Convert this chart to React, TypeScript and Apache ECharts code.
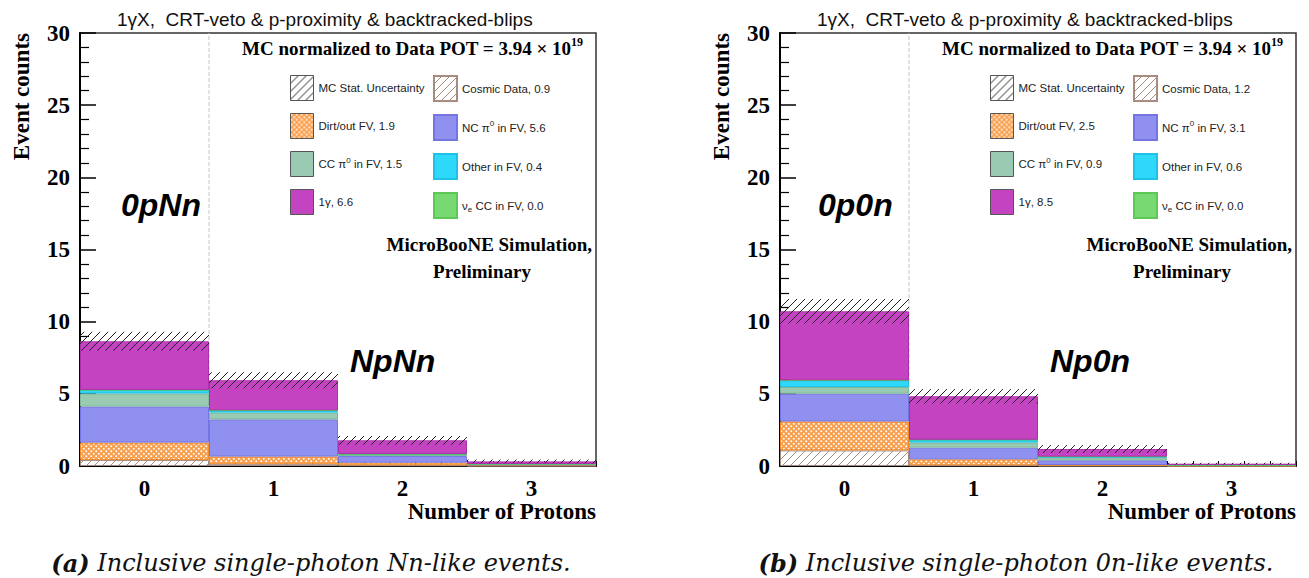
import React, { useEffect, useRef } from 'react';
import * as echarts from 'echarts';

// ---------------- data ----------------
const categories = ['0', '1', '2', '3'];

// (a) Nn-like panel
const nnCosmic = [0.42, 0.15, 0.05, 0.02];
const nnDirt = [1.2, 0.5, 0.18, 0.02];
const nnNCpi0 = [2.5, 2.58, 0.46, 0.1];
const nnCCpi0 = [0.9, 0.47, 0.09, 0.0];
const nnOther = [0.25, 0.16, 0.05, 0.0];
const nnNueCC = [0, 0, 0, 0];
const nnOneGamma = [3.37, 2.08, 0.95, 0.18];
const nnStatErr = [0.66, 0.55, 0.3, 0.13];
const nnLegendCol1 = ['MC Stat. Uncertainty', 'Dirt/out FV, 1.9', 'CC π0 in FV, 1.5', '1γ, 6.6'];
const nnLegendCol2 = ['Cosmic Data, 0.9', 'NC π0 in FV, 5.6', 'Other in FV, 0.4', 'νe CC in FV, 0.0'];

// (b) 0n-like panel
const onCosmic = [1.08, 0.05, 0.02, 0.01];
const onDirt = [2.0, 0.41, 0.05, 0.01];
const onNCpi0 = [1.93, 0.81, 0.32, 0.05];
const onCCpi0 = [0.46, 0.35, 0.19, 0.0];
const onOther = [0.47, 0.2, 0.07, 0.0];
const onNueCC = [0, 0, 0, 0];
const onOneGamma = [4.78, 3.01, 0.53, 0.09];
const onStatErr = [0.85, 0.5, 0.28, 0.06];
const onLegendCol1 = ['MC Stat. Uncertainty', 'Dirt/out FV, 2.5', 'CC π0 in FV, 0.9', '1γ, 8.5'];
const onLegendCol2 = ['Cosmic Data, 1.2', 'NC π0 in FV, 3.1', 'Other in FV, 0.6', 'νe CC in FV, 0.0'];

const plotTitle = '1γX,  CRT-veto & p-proximity & backtracked-blips';
const captionA = ['(a)', ' Inclusive single-photon Nn-like events.'];
const captionB = ['(b)', ' Inclusive single-photon 0n-like events.'];

// ---------------- styles ----------------
const SERIF = 'Liberation Serif';
const SANS = 'Liberation Sans';
const C = {
  dirt: '#F9A04E',
  dirtBorder: '#F08A2A',
  nc: '#8F90F0',
  ncBorder: '#7475E0',
  cc: '#9BCAB2',
  ccBorder: '#7FB89A',
  other: '#2DD8FB',
  otherBorder: '#1EC2E6',
  nue: '#78D872',
  nueBorder: '#5CC856',
  g1: '#C443C1',
  g1Border: '#AE2FAC',
  cosmic: '#A68C80',
};

function makeHatch(color: string, bg: string | null, size = 8, lw = 1) {
  const c = document.createElement('canvas');
  c.width = size;
  c.height = size;
  const ctx = c.getContext('2d')!;
  if (bg) {
    ctx.fillStyle = bg;
    ctx.fillRect(0, 0, size, size);
  }
  ctx.strokeStyle = color;
  ctx.lineWidth = lw;
  ctx.beginPath();
  ctx.moveTo(0, size);
  ctx.lineTo(size, 0);
  ctx.moveTo(-size / 2, size / 2);
  ctx.lineTo(size / 2, -size / 2);
  ctx.moveTo(size / 2, size * 1.5);
  ctx.lineTo(size * 1.5, size / 2);
  ctx.stroke();
  return c;
}

function makeDots() {
  const s = 5;
  const c = document.createElement('canvas');
  c.width = s;
  c.height = s;
  const ctx = c.getContext('2d')!;
  ctx.fillStyle = C.dirt;
  ctx.fillRect(0, 0, s, s);
  ctx.fillStyle = '#ffffff';
  ctx.fillRect(0.4, 0.4, 1.7, 1.7);
  ctx.fillRect(2.9, 2.9, 1.7, 1.7);
  return c;
}

type Panel = {
  cosmic: number[]; dirt: number[]; nc: number[]; cc: number[]; other: number[]; nue: number[]; g1: number[]; err: number[];
  col1: string[]; col2: string[];
};

const panels: Panel[] = [
  { cosmic: nnCosmic, dirt: nnDirt, nc: nnNCpi0, cc: nnCCpi0, other: nnOther, nue: nnNueCC, g1: nnOneGamma, err: nnStatErr, col1: nnLegendCol1, col2: nnLegendCol2 },
  { cosmic: onCosmic, dirt: onDirt, nc: onNCpi0, cc: onCCpi0, other: onOther, nue: onNueCC, g1: onOneGamma, err: onStatErr, col1: onLegendCol1, col2: onLegendCol2 },
];

const GRID_LEFT = [80, 780];
const GRID_W = 516;
const GRID_TOP = 33;
const GRID_H = 433;

export default function App() {
  const ref = useRef<HTMLDivElement>(null);
  useEffect(() => {
    if (!ref.current) return;
    const chart = echarts.init(ref.current, undefined, { renderer: 'svg' });

    const errPat = { image: makeHatch('#222', null, 8, 1), repeat: 'repeat' } as any;
    const cosmicPat = { image: makeHatch(C.cosmic, '#ffffff', 8, 1), repeat: 'repeat' } as any;
    const dirtPat = { image: makeDots(), repeat: 'repeat' } as any;

    const grids: any[] = [];
    const xAxes: any[] = [];
    const yAxes: any[] = [];
    const series: any[] = [];
    const legends: any[] = [];
    const graphics: any[] = [];

    const legendText = {
      fontFamily: SANS,
      fontSize: 11.5,
      color: '#222',
      lineHeight: 16,
      rich: {
        sup: { fontFamily: SANS, fontSize: 8, color: '#222', verticalAlign: 'top', lineHeight: 16 },
        sub: { fontFamily: SANS, fontSize: 8, color: '#222', verticalAlign: 'bottom', lineHeight: 12 },
      },
    };
    const legendFmt = (name: string) => name.replace('π0', 'π{sup|0}').replace('νe', 'ν{sub|e}');

    panels.forEach((p, i) => {
      const gl = GRID_LEFT[i];
      grids.push({ left: gl, top: GRID_TOP, width: GRID_W, height: GRID_H, show: true, borderColor: '#333', borderWidth: 1.5, backgroundColor: 'transparent' });
      const ci = xAxes.length;
      xAxes.push({
        type: 'category', gridIndex: i, data: categories, position: 'bottom',
        axisLine: { show: true, lineStyle: { color: '#000', width: 2 } },
        axisTick: { show: false },
        axisLabel: { fontFamily: SERIF, fontWeight: 'bold', fontSize: 23, lineHeight: 20, color: '#000', margin: 12 },
        splitLine: { show: false },
      });
      const vi = xAxes.length;
      xAxes.push({
        type: 'value', gridIndex: i, min: 0, max: 20, interval: 5, position: 'bottom',
        axisLine: { show: false },
        axisLabel: { show: false },
        axisTick: { show: true, inside: true, length: 5, lineStyle: { color: '#000', width: 1 } },
        minorTick: { show: true, splitNumber: 5, length: 5, lineStyle: { color: '#000', width: 1 } },
        splitLine: { show: false },
      });
      yAxes.push({
        type: 'value', gridIndex: i, min: 0, max: 30, interval: 5,
        axisLine: { show: true, lineStyle: { color: '#000', width: 2 } },
        axisTick: { show: true, inside: true, length: 16, lineStyle: { color: '#000', width: 1.5 } },
        minorTick: { show: true, splitNumber: 5, length: 9, lineStyle: { color: '#000', width: 1.2 } },
        axisLabel: { fontFamily: SERIF, fontWeight: 'bold', fontSize: 23, color: '#000', margin: 10 },
        splitLine: { show: false },
      });
      const yi = i;

      // dashed boundary between bin 0 and bin 1
      series.push({
        type: 'line', xAxisIndex: vi, yAxisIndex: yi, data: [[5, 0], [5, 30]],
        symbol: 'none', silent: true, z: 1,
        lineStyle: { type: 'dashed', color: '#c4c4c4', width: 1 },
      });

      const barCommon = { type: 'bar', xAxisIndex: ci, yAxisIndex: yi, barWidth: '100%', barGap: '-100%', stack: 'mc' + i, z: 2 };
      const [nUnc, nDirt, nCC, nG1] = p.col1;
      const [nCos, nNC, nOther, nNue] = p.col2;
      series.push({ ...barCommon, name: nCos, data: p.cosmic, itemStyle: { color: cosmicPat, borderColor: C.cosmic, borderWidth: 1 } });
      series.push({ ...barCommon, name: nDirt, data: p.dirt, itemStyle: { color: dirtPat, borderColor: C.dirtBorder, borderWidth: 1 } });
      series.push({ ...barCommon, name: nNC, data: p.nc, itemStyle: { color: C.nc, borderColor: C.ncBorder, borderWidth: 1 } });
      series.push({ ...barCommon, name: nCC, data: p.cc, itemStyle: { color: C.cc, borderColor: C.ccBorder, borderWidth: 1 } });
      series.push({ ...barCommon, name: nOther, data: p.other, itemStyle: { color: C.other, borderColor: C.otherBorder, borderWidth: 1 } });
      series.push({ ...barCommon, name: nNue, data: p.nue, itemStyle: { color: C.nue, borderColor: C.nueBorder, borderWidth: 1 } });
      series.push({ ...barCommon, name: nG1, data: p.g1, itemStyle: { color: C.g1, borderColor: C.g1Border, borderWidth: 1 } });

      const totals = p.g1.map((_, k) => p.cosmic[k] + p.dirt[k] + p.nc[k] + p.cc[k] + p.other[k] + p.nue[k] + p.g1[k]);
      const errCommon = { ...barCommon, stack: 'err' + i, z: 3 };
      series.push({ ...errCommon, name: 'err-base-' + i, silent: true, data: totals.map((t, k) => t - p.err[k]), itemStyle: { color: 'rgba(0,0,0,0)' } });
      series.push({ ...errCommon, name: nUnc, data: p.err.map((e) => 2 * e), itemStyle: { color: errPat, borderColor: '#666', borderWidth: 0 } });

      const legCommon = {
        orient: 'vertical', top: 75, itemGap: 12, itemWidth: 23, itemHeight: 25, icon: 'rect',
        selectedMode: false, textStyle: legendText, formatter: legendFmt, padding: 0,
      };
      legends.push({ ...legCommon, left: gl + 210, data: p.col1, itemStyle: { borderColor: '#555', borderWidth: 1 } });
      legends.push({ ...legCommon, left: gl + 353, data: p.col2 });

      // texts
      graphics.push({ type: 'text', x: gl + 37, y: 19, style: { text: plotTitle, font: `19px ${SANS}`, fill: '#111', verticalAlign: 'middle', align: 'left' } });
      graphics.push({
        type: 'text', x: gl + GRID_W - 13, y: 48,
        style: {
          text: '{b|MC normalized to Data POT = 3.94 × 10}{s|19}', align: 'right', verticalAlign: 'middle',
          rich: {
            b: { fontFamily: SERIF, fontWeight: 'bold', fontSize: 19, fill: '#000', lineHeight: 24 },
            s: { fontFamily: SERIF, fontWeight: 'bold', fontSize: 12, fill: '#000', verticalAlign: 'top', lineHeight: 24 },
          },
        },
      });
      graphics.push({ type: 'text', x: gl + GRID_W - 4, y: 244, style: { text: 'MicroBooNE Simulation,', font: `bold 19px ${SERIF}`, fill: '#000', align: 'right', verticalAlign: 'middle' } });
      graphics.push({ type: 'text', x: gl + 402, y: 271, style: { text: 'Preliminary', font: `bold 19px ${SERIF}`, fill: '#000', align: 'center', verticalAlign: 'middle' } });
      graphics.push({ type: 'text', x: gl + (i === 0 ? 41 : 38), y: 205, style: { text: i === 0 ? '0pNn' : '0p0n', font: `italic bold 32px ${SANS}`, fill: '#000', align: 'left', verticalAlign: 'middle' } });
      graphics.push({ type: 'text', x: gl + 270, y: 361, style: { text: i === 0 ? 'NpNn' : 'Np0n', font: `italic bold 32px ${SANS}`, fill: '#000', align: 'left', verticalAlign: 'middle' } });
      graphics.push({ type: 'text', x: gl - 59, y: GRID_TOP, rotation: Math.PI / 2, style: { text: 'Event counts', font: `bold 23px ${SERIF}`, fill: '#000', align: 'right', verticalAlign: 'middle' } });
      graphics.push({ type: 'text', x: gl + GRID_W, y: 511, style: { text: 'Number of Protons', font: `bold 23px ${SERIF}`, lineHeight: 20, fill: '#000', align: 'right', verticalAlign: 'middle' } });
      const cap = i === 0 ? captionA : captionB;
      graphics.push({
        type: 'text', x: i === 0 ? 311 : 1016, y: 563,
        style: {
          text: `{a|${cap[0]}}{t|${cap[1]}}`, align: 'center', verticalAlign: 'middle',
          rich: {
            a: { fontFamily: 'DejaVu Serif', fontStyle: 'italic', fontWeight: 'bold', fontSize: 24, fill: '#111' },
            t: { fontFamily: 'DejaVu Serif', fontStyle: 'italic', fontSize: 24, fill: '#111' },
          },
        },
      });
    });

    chart.setOption({
      animation: false,
      backgroundColor: '#ffffff',
      grid: grids,
      xAxis: xAxes,
      yAxis: yAxes,
      legend: legends,
      series,
      graphic: graphics,
    });
    return () => chart.dispose();
  }, []);

  return <div ref={ref} style={{ position: 'fixed', left: 0, top: 0, width: 1309, height: 578 }} />;
}
